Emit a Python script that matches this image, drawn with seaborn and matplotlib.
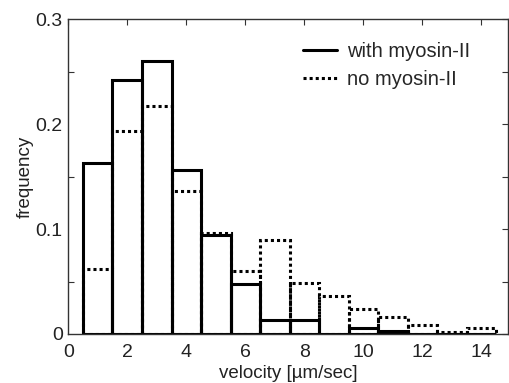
import numpy as np
import pandas as pd
import matplotlib
matplotlib.use("Agg")
import matplotlib.pyplot as plt
from matplotlib.lines import Line2D
from matplotlib.ticker import MultipleLocator
import seaborn as sns

# Data (bin centres and frequencies)
velocity = [1, 2, 3, 4, 5, 6, 7, 8, 9, 10, 11, 12, 13, 14]
with_myosin = [0.163, 0.242, 0.260, 0.156, 0.094, 0.048, 0.013, 0.013, 0.0, 0.006, 0.003, 0.0, 0.0, 0.0]
no_myosin = [0.062, 0.193, 0.217, 0.136, 0.096, 0.060, 0.090, 0.049, 0.036, 0.024, 0.016, 0.009, 0.002, 0.006]
labels = ["with myosin-II", "no myosin-II"]

sns.set_style("white")
plt.rcParams['font.family'] = ['Liberation Sans', 'DejaVu Sans']

fig = plt.figure(figsize=(5.09, 3.83), dpi=100)
ax = fig.add_axes([0.134, 0.128, 0.864, 0.822])

df = pd.DataFrame({"velocity": velocity, "with": with_myosin, "no": no_myosin})

n0 = len(ax.patches)
sns.histplot(data=df, x="velocity", weights="no", binwidth=1, binrange=(0.5, 14.5),
             element="bars", fill=False, color="black", linewidth=2.2, ax=ax)
for p in ax.patches[n0:]:
    p.set_linestyle((0, (1.0, 1.0)))
sns.histplot(data=df, x="velocity", weights="with", binwidth=1, binrange=(0.5, 14.5),
             element="bars", fill=False, color="black", linewidth=2.2, ax=ax)

ax.set_xlim(0, 14.9)
ax.set_ylim(0, 0.3)
ax.set_xticks(np.arange(0, 15, 2))
ax.xaxis.set_minor_locator(MultipleLocator(1))
ax.set_yticks([0, 0.1, 0.2, 0.3])
ax.set_yticklabels(["0", "0.1", "0.2", "0.3"])
ax.yaxis.set_minor_locator(MultipleLocator(0.05))
ax.tick_params(which="major", direction="in", length=4, width=0.8, top=True, right=True,
               labelsize=14, color="#333333", labelcolor="#222222")
ax.tick_params(axis="x", which="major", pad=7)
ax.tick_params(axis="y", which="major", pad=4)
ax.tick_params(which="minor", direction="in", length=4, width=0.8, top=False, right=True,
               bottom=False, left=True, color="#333333")
for s in ax.spines.values():
    s.set_linewidth(1.0)
    s.set_color("#333333")

ax.set_xlabel("velocity [µm/sec]", fontsize=13.5, color="#222222", labelpad=3)
ax.set_ylabel("frequency", fontsize=13.5, color="#222222", labelpad=1)

handles = [Line2D([0], [0], color="black", lw=2.2, ls="-"),
           Line2D([0], [0], color="black", lw=2.2, ls=(0, (1.0, 1.0)))]
ax.legend(handles, labels, loc="upper right", frameon=False, fontsize=14.5,
          handlelength=1.7, handletextpad=0.5, labelspacing=0.45,
          bbox_to_anchor=(0.955, 0.985))

fig.savefig("out.png", dpi=100)
